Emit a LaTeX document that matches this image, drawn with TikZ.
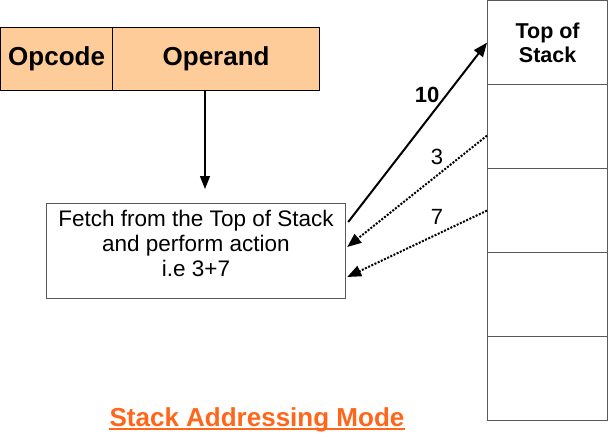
\documentclass[tikz,border=0pt]{standalone}
\usepackage{fontspec}
\setmainfont{Liberation Sans}
\usetikzlibrary{arrows.meta,calc}
\definecolor{barfill}{RGB}{253,204,153}
\definecolor{titleorange}{RGB}{255,102,26}
\definecolor{boxline}{RGB}{90,90,90}
\tikzset{
  field/.style={draw=black, line width=1.2pt, fill=barfill, minimum height=63pt, inner sep=0pt, anchor=north west, font=\bfseries\fontsize{26}{30}\selectfont},
  cell/.style={draw=boxline, line width=1.2pt, minimum width=120pt, minimum height=84pt, inner sep=0pt, anchor=north west},
  fetchbox/.style={draw=boxline, line width=1.2pt, minimum width=299pt, minimum height=95pt, inner sep=0pt, anchor=north west},
  solidarrow/.style={-{Triangle[length=14pt,width=11pt]}, line width=2pt},
  dotarrow/.style={-{Triangle[length=14pt,width=11pt]}, line width=2pt, dash pattern=on 2pt off 1.5pt},
  plainarrow/.style={-{Triangle[length=13pt,width=10pt]}, line width=1.1pt},
  lbl/.style={font=\fontsize{22}{26}\selectfont, inner sep=0pt}
}
\begin{document}
\begin{tikzpicture}[x=1pt,y=1pt]
\useasboundingbox (0,0) rectangle (616,-442);
% instruction format
\node[field, minimum width=112pt] (opcode) at (0,-27) {Opcode};
\node[field, minimum width=207pt] (operand) at (112,-27) {Operand};
% fetch box
\node[fetchbox] (fetch) at (46,-203) {};
\node[align=center, inner sep=0pt, font=\fontsize{22.5}{25}\selectfont] (fetchtxt) at (196,-243) {Fetch from the Top of Stack\\and perform action\\i.e 3+7};
% stack
\node[cell, align=center, font=\bfseries\fontsize{21.5}{24}\selectfont] (tos) at (487,0) {Top of\\Stack};
\node[cell] (s2) at (487,-84) {};
\node[cell] (s3) at (487,-168) {};
\node[cell] (s4) at (487,-252) {};
\node[cell] (s5) at (487,-336) {};
% connectors
\coordinate (opdown) at (205,-90);
\coordinate (fetchin) at (205,-189);
\draw[plainarrow] (opdown) -- (fetchin);
\coordinate (f10) at ($(fetch.north east)+(2,-19)$);
\coordinate (f3) at ($(fetch.north east)+(1,-44)$);
\coordinate (f7) at ($(fetch.north east)+(1,-74)$);
\coordinate (s3out) at ($(s2.west)+(0,-9)$);
\draw[solidarrow] (f10) -- (tos.west);
\draw[dotarrow] (s3out) -- (f3);
\draw[dotarrow] (s3.west) -- (f7);
% labels
\node[lbl, font=\bfseries\fontsize{22}{26}\selectfont] (l10) at (427,-95) {10};
\node[lbl] (l3) at (437,-157) {3};
\node[lbl] (l7) at (437,-217) {7};
% title
\node[font=\bfseries\fontsize{26}{30}\selectfont, text=titleorange, inner sep=0pt, anchor=base] (title) at (257,-426) {Stack Addressing Mode};
\draw[titleorange, line width=1.5pt] ([yshift=-3pt]title.base west) -- ([yshift=-3pt]title.base east);
\end{tikzpicture}
\end{document}
